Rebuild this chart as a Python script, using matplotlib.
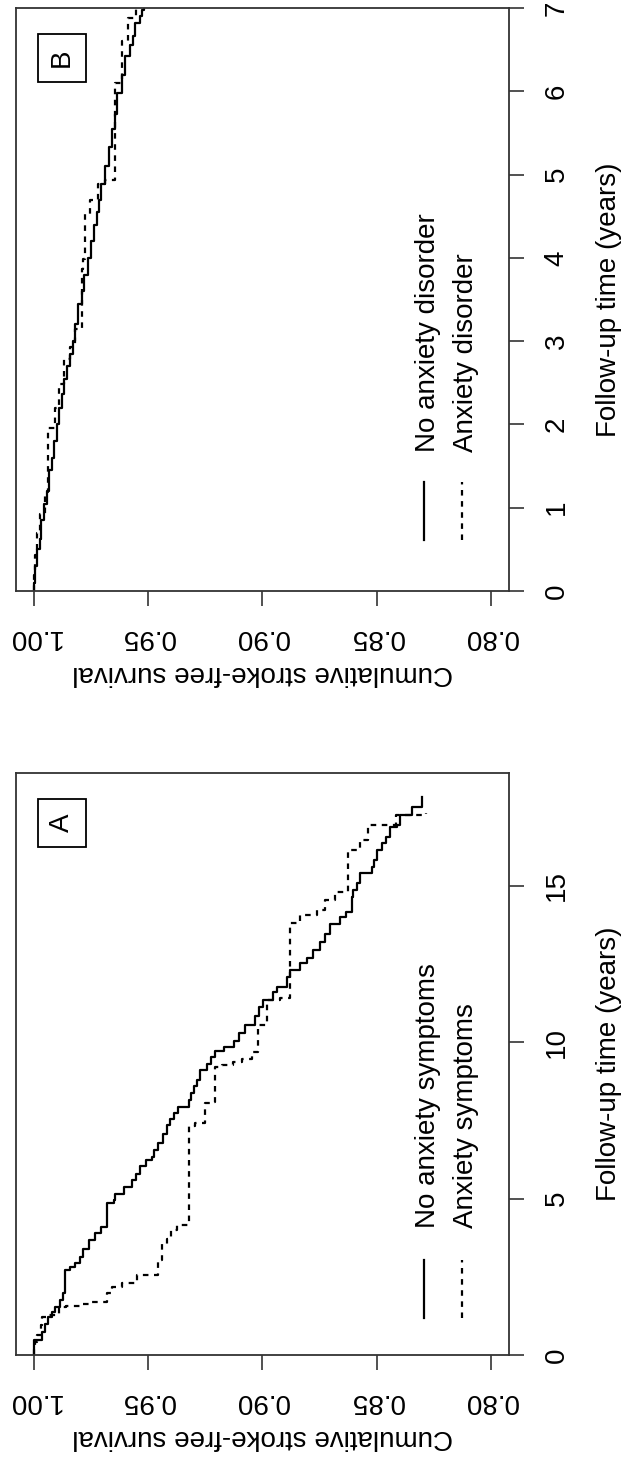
import matplotlib
matplotlib.use("Agg")
import matplotlib.pyplot as plt
from matplotlib.patches import Rectangle

plt.rcParams['font.family'] = ['Liberation Sans', 'DejaVu Sans']

# Panel A: anxiety symptoms (follow-up up to ~18 years)
a_none_t = [0.48, 0.75, 1.00, 1.20, 1.37, 1.53, 1.75, 1.97, 2.72, 2.80, 2.95, 3.14, 3.40, 3.67,
            3.90, 4.10, 4.85, 4.95, 5.15, 5.38, 5.60, 5.80, 6.05, 6.23, 6.34, 6.55, 6.77, 7.05,
            7.35, 7.55, 7.73, 7.93, 8.15, 8.37, 8.60, 8.79, 9.10, 9.30, 9.53, 9.70, 9.85, 10.05,
            10.29, 10.54, 10.85, 11.13, 11.34, 11.60, 11.77, 12.08, 12.30, 12.52, 12.70, 12.94,
            13.20, 13.47, 13.79, 14.00, 14.16, 14.64, 14.85, 15.08, 15.40, 15.60, 15.81, 16.13,
            16.35, 16.56, 16.88, 16.93, 17.25, 17.52]
a_none_s = [0.9965, 0.9950, 0.9936, 0.9920, 0.9906, 0.9885, 0.9874, 0.9863, 0.9840, 0.9819, 0.9800,
            0.9783, 0.9757, 0.9731, 0.9705, 0.9680, 0.9651, 0.9644, 0.9607, 0.9570, 0.9552, 0.9535,
            0.9509, 0.9483, 0.9476, 0.9455, 0.9433, 0.9418, 0.9403, 0.9385, 0.9367, 0.9323, 0.9312,
            0.9301, 0.9286, 0.9272, 0.9243, 0.9225, 0.9206, 0.9166, 0.9126, 0.9100, 0.9075, 0.9031,
            0.9013, 0.8995, 0.8951, 0.8937, 0.8893, 0.8878, 0.8835, 0.8805, 0.8776, 0.8747, 0.8725,
            0.8703, 0.8660, 0.8635, 0.8609, 0.8602, 0.8587, 0.8572, 0.8521, 0.8510, 0.8499, 0.8477,
            0.8459, 0.8441, 0.8412, 0.8397, 0.8345, 0.8300]
a_none_end = 17.84

a_sym_t = [0.20, 0.42, 0.64, 0.96, 1.20, 1.27, 1.55, 1.58, 1.62, 1.68, 1.97, 2.18, 2.29, 2.57,
           3.05, 3.55, 3.70, 3.98, 4.17, 7.33, 7.40, 8.05, 8.10, 9.22, 9.27, 9.35, 9.45, 9.69,
           10.56, 11.36, 11.42, 13.80, 14.06, 14.22, 14.54, 14.80, 16.13, 16.45, 16.93, 17.25]
a_sym_s = [0.9994, 0.9985, 0.9970, 0.9965, 0.9936, 0.9890, 0.9860, 0.9800, 0.9750, 0.9680,
           0.9658, 0.9615, 0.9549, 0.9455, 0.9440, 0.9418, 0.9400, 0.9374, 0.9323, 0.9294,
           0.9250, 0.9228, 0.9206, 0.9175, 0.9130, 0.9090, 0.9046, 0.9017, 0.8980, 0.8922,
           0.8878, 0.8835, 0.8762, 0.8725, 0.8682, 0.8623, 0.8572, 0.8537, 0.8414, 0.8283]
a_sym_end = 17.32

# Panel B: anxiety disorder (follow-up up to 7 years)
b_none_t = [0.10, 0.30, 0.50, 0.62, 0.85, 1.05, 1.20, 1.45, 1.60, 1.80, 2.00, 2.20, 2.36, 2.55,
            2.70, 2.85, 3.00, 3.20, 3.45, 3.60, 3.80, 4.00, 4.20, 4.40, 4.55, 4.70, 4.89, 5.10,
            5.33, 5.55, 5.73, 5.98, 6.20, 6.42, 6.55, 6.66, 6.82, 6.90, 6.97]
b_none_s = [0.9994, 0.9985, 0.9975, 0.9968, 0.9955, 0.9944, 0.9935, 0.9922, 0.9912, 0.9900,
            0.9890, 0.9878, 0.9870, 0.9855, 0.9842, 0.9830, 0.9820, 0.9805, 0.9790, 0.9780,
            0.9765, 0.9750, 0.9737, 0.9725, 0.9716, 0.9705, 0.9688, 0.9672, 0.9658, 0.9646,
            0.9636, 0.9615, 0.9600, 0.9578, 0.9566, 0.9556, 0.9535, 0.9528, 0.9518]
b_none_end = 7.0

b_dis_t = [0.19, 0.31, 0.43, 0.70, 0.92, 1.19, 1.96, 2.20, 2.48, 2.78, 2.93, 3.14, 3.87, 3.99,
           4.53, 4.70, 4.89, 4.93, 6.10, 6.60, 6.88]
b_dis_s = [0.9997, 0.9994, 0.9986, 0.9972, 0.9950, 0.9936, 0.9906, 0.9892, 0.9870, 0.9840,
           0.9819, 0.9790, 0.9783, 0.9775, 0.9753, 0.9720, 0.9688, 0.9644, 0.9615, 0.9587,
           0.9555]
b_dis_end = 7.0

surv_ticks = [1.00, 0.95, 0.90, 0.85, 0.80]
surv_labels = ['1.00', '0.95', '0.90', '0.85', '0.80']

FS = 20
W = 627 / 100.0
H = 1461 / 100.0


def km(ax, times, surv, t_end, **kw):
    # survival on x, time on y: vertical runs between events, horizontal drops
    x = [1.0] + list(surv) + [surv[-1]]
    y = [0.0] + list(times) + [t_end]
    ax.step(x, y, where='pre', color='black', **kw)


def setup(ax, tmax, tticks, letter, leg_labels, leg_top, leg_bot, leg_txt):
    ax.set_xlim(1.008, 0.792)
    ax.set_ylim(0, tmax)
    ax.set_xticks(surv_ticks)
    ax.set_xticklabels(surv_labels, rotation=180)
    ax.yaxis.tick_right()
    ax.yaxis.set_label_position('right')
    ax.set_yticks(tticks)
    ax.set_yticklabels([str(t) for t in tticks], rotation=90, va='center')
    ax.tick_params(axis='both', direction='out', length=11, width=1.2,
                   labelsize=FS, color='#333333')
    ax.tick_params(axis='x', pad=13)
    ax.tick_params(axis='y', pad=14)
    for sp in ax.spines.values():
        sp.set_linewidth(1.3)
        sp.set_color('#333333')
    ax.set_xlabel('Cumulative stroke-free survival', fontsize=FS, rotation=180, labelpad=7)
    ax.set_ylabel('Follow-up time (years)', fontsize=FS, rotation=90, labelpad=19)

    # panel letter in a box
    ax.add_patch(Rectangle((0.045, 0.873), 0.097, 0.082, transform=ax.transAxes,
                           fill=False, lw=1.3, ec='black'))
    ax.text(0.094, 0.914, letter, transform=ax.transAxes, rotation=90, fontsize=FS,
            ha='center', va='center')

    # legend drawn by hand, rotated like the rest
    ax.plot([0.828, 0.828], [leg_bot, leg_top], transform=ax.transAxes, color='black', lw=1.6)
    ax.plot([0.905, 0.905], [leg_bot, leg_top], transform=ax.transAxes, color='black', lw=1.6,
            linestyle=(0, (2.5, 2.5)))
    ax.text(0.836, leg_txt, leg_labels[0], transform=ax.transAxes, rotation=90, fontsize=FS,
            ha='center', va='bottom')
    ax.text(0.912, leg_txt, leg_labels[1], transform=ax.transAxes, rotation=90, fontsize=FS,
            ha='center', va='bottom')


fig = plt.figure(figsize=(W, H), dpi=100)

axb = fig.add_axes([15.6 / 627, (1461 - 591) / 1461, (509 - 15.6) / 627, 583 / 1461])
km(axb, b_none_t, b_none_s, b_none_end, lw=1.6)
km(axb, b_dis_t, b_dis_s, b_dis_end, lw=1.6, linestyle=(0, (2.5, 2.5)))
setup(axb, 7, list(range(0, 8)), 'B', ['No anxiety disorder', 'Anxiety disorder'],
      0.187, 0.0875, 0.238)

axa = fig.add_axes([15.6 / 627, (1461 - 1355) / 1461, (509 - 15.6) / 627, 582 / 1461])
km(axa, a_none_t, a_none_s, a_none_end, lw=1.6)
km(axa, a_sym_t, a_sym_s, a_sym_end, lw=1.6, linestyle=(0, (2.5, 2.5)))
setup(axa, 18.6, [0, 5, 10, 15], 'A', ['No anxiety symptoms', 'Anxiety symptoms'],
      0.163, 0.0636, 0.218)

fig.savefig('out.png', dpi=100)
